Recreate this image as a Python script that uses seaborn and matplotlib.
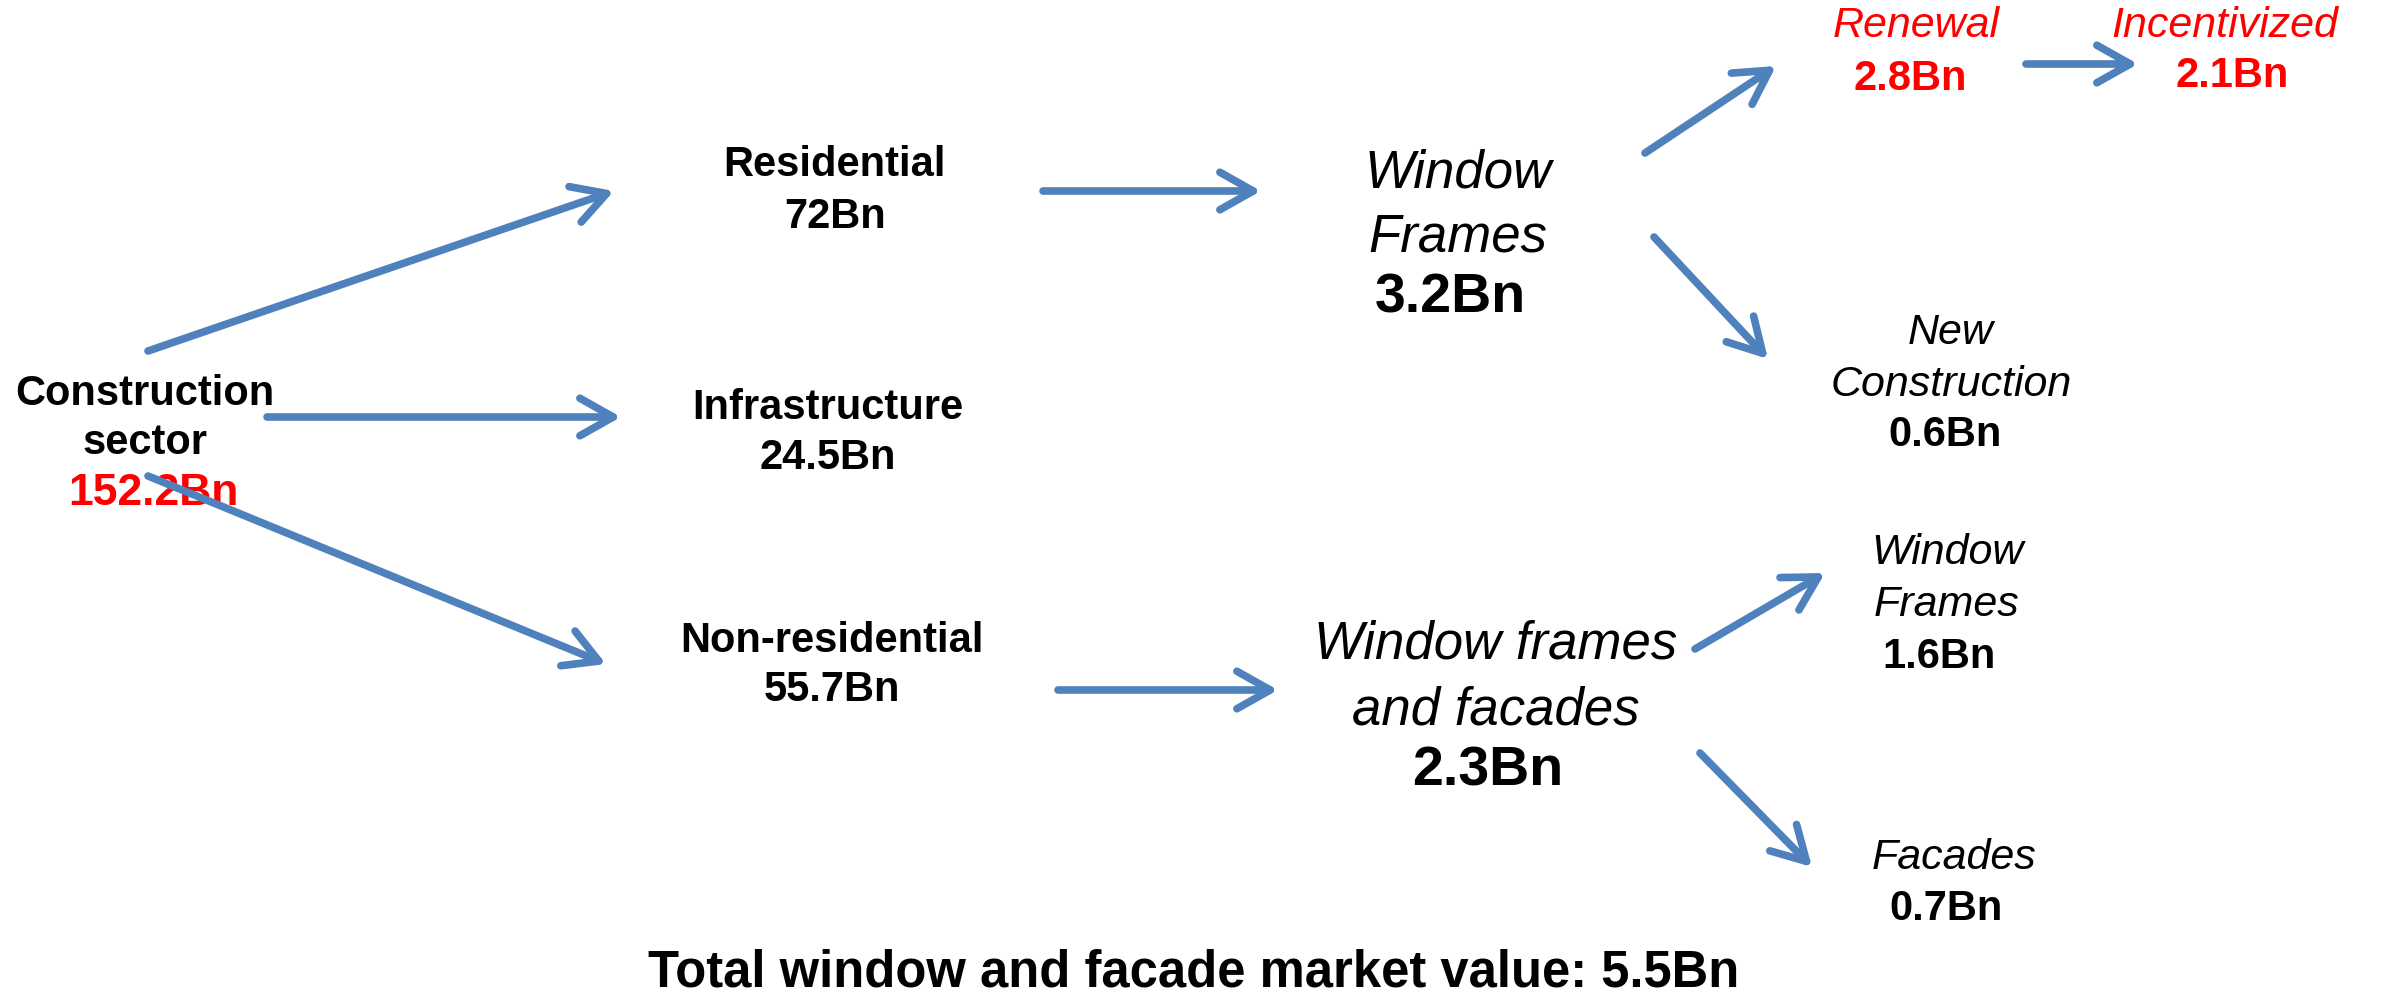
import matplotlib
matplotlib.use("Agg")
import matplotlib.pyplot as plt
import seaborn as sns

# node labels / values
sector_name = ["Construction", "sector"]
sector_value = "152.2Bn"
segments = ["Residential", "Infrastructure", "Non-residential"]
segment_values = ["72Bn", "24.5Bn", "55.7Bn"]
products = [["Window", "Frames"], ["Window frames", "and facades"]]
product_values = ["3.2Bn", "2.3Bn"]
wf_split = [["Renewal"], ["New", "Construction"]]
wf_split_values = ["2.8Bn", "0.6Bn"]
incent_name = "Incentivized"
incent_value = "2.1Bn"
wff_split = [["Window", "Frames"], ["Facades"]]
wff_split_values = ["1.6Bn", "0.7Bn"]
total_text = "Total window and facade market value: 5.5Bn"

BLUE = "#4F81BD"
RED = "#FF0000"

sns.set_theme(style="white")
plt.rcParams["font.family"] = ["Liberation Sans", "DejaVu Sans"]

fig = plt.figure(figsize=(23.94, 9.96), dpi=100)
ax = fig.add_axes([0, 0, 1, 1])
ax.set_xlim(0, 2394)
ax.set_ylim(996, 0)
ax.axis("off")


def txt(x, y, s, size=30, bold=False, italic=False, color="black"):
    ax.text(x, y, s, ha="center", va="center", fontsize=size,
            fontweight="bold" if bold else "normal",
            fontstyle="italic" if italic else "normal", color=color)


def arrow(x0, y0, x1, y1):
    ax.annotate("", xy=(x1, y1), xytext=(x0, y0),
                arrowprops=dict(arrowstyle="->,head_length=0.8,head_width=0.45",
                                lw=5.5, color=BLUE, mutation_scale=30,
                                shrinkA=0, shrinkB=0, capstyle="round"))


# level 0
txt(145, 394, sector_name[0], bold=True)
txt(145, 443, sector_name[1], bold=True)
txt(153, 493, sector_value, size=32, bold=True, color=RED)

arrow(148, 351, 614, 191)
arrow(267, 417, 621, 417)
arrow(148, 476, 606, 664)

# level 1
seg_pos = [(835, 165, 217), (828, 408, 458), (832, 641, 690)]
for name, val, (x, y1, y2) in zip(segments, segment_values, seg_pos):
    txt(x, y1, name, bold=True)
    txt(x, y2, val, bold=True)

arrow(1043, 191, 1261, 191)
arrow(1058, 690, 1278, 690)

# level 2
prod_pos = [(1458, [173, 237], 298), (1496, [644, 710], 771)]
for lines, val, (x, ys, yv) in zip(products, product_values, prod_pos):
    for line, y in zip(lines, ys):
        txt(x, y, line, size=38, italic=True)
    txt(x - 8, yv, val, size=40, bold=True)

arrow(1645, 153, 1776, 66)
arrow(1654, 237, 1768, 359)
arrow(1695, 649, 1825, 573)
arrow(1700, 753, 1812, 867)

# level 3
wf_pos = [(1916, [26], 79, RED), (1951, [333, 385], 435, "black")]
for lines, val, (x, ys, yv, c) in zip(wf_split, wf_split_values, wf_pos):
    for line, y in zip(lines, ys):
        txt(x, y, line, size=31, italic=True, color=c)
    txt(x - 6, yv, val, bold=True, color=c)

wff_pos = [(1947, [553, 605], 657), (1954, [858], 909)]
for lines, val, (x, ys, yv) in zip(wff_split, wff_split_values, wff_pos):
    for line, y in zip(lines, ys):
        txt(x, y, line, size=31, italic=True)
    txt(x - 8, yv, val, bold=True)

arrow(2026, 64, 2138, 64)
txt(2225, 26, incent_name, size=31, italic=True, color=RED)
txt(2232, 76, incent_value, bold=True, color=RED)

txt(1194, 973, total_text, size=36.5, bold=True)

fig.savefig("out.png", dpi=100, facecolor="white")
